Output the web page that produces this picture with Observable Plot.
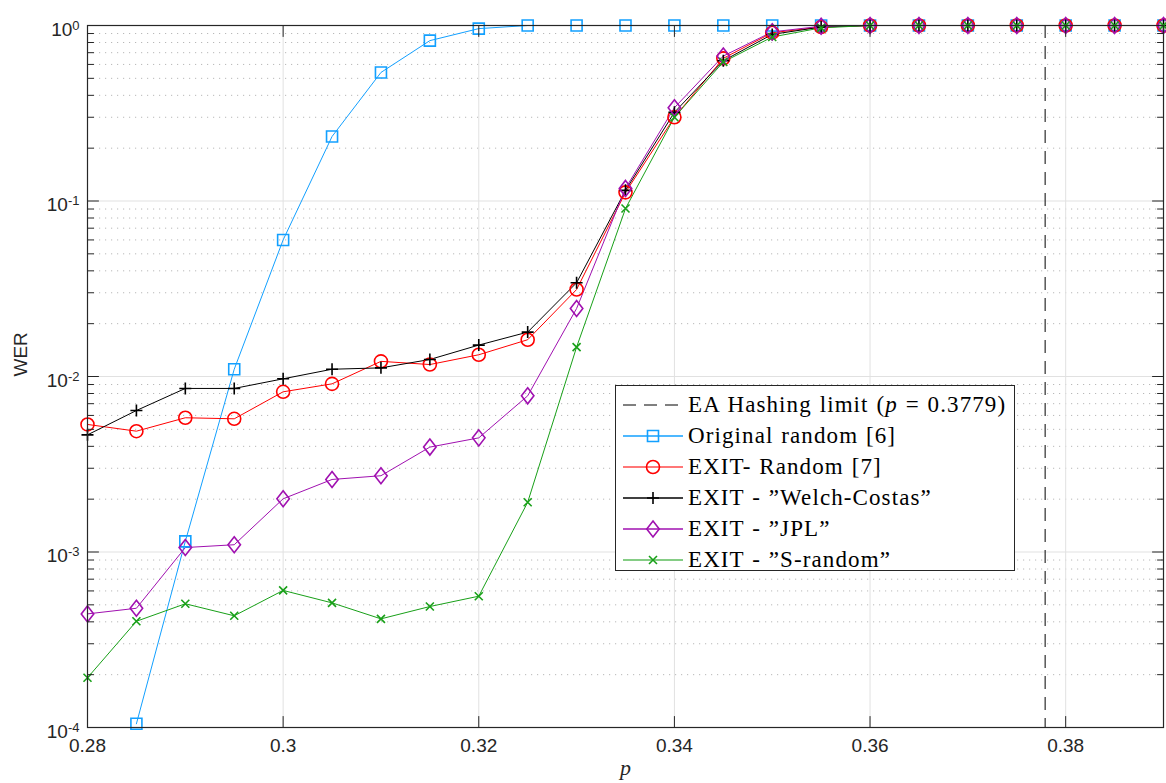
<!DOCTYPE html>
<html><head><meta charset="utf-8">
<script src="https://cdn.jsdelivr.net/npm/d3@7"></script>
<script src="https://cdn.jsdelivr.net/npm/@observablehq/plot@0.6"></script>
<style>
body{margin:0;background:#fff;}
#wrap{position:relative;width:1166px;height:783px;overflow:hidden;}
#legend{position:absolute;left:615px;top:385px;width:400px;height:186px;border:1px solid #262626;background:#fff;box-sizing:border-box;font-family:"Liberation Serif","Times New Roman",serif;font-size:23px;letter-spacing:1.1px;word-spacing:1px;color:#000;padding-top:3px;}
#legend .row{display:flex;align-items:center;height:31px;white-space:nowrap;}
#legend svg{margin-left:6px;margin-right:4px;flex:none;}
</style>
</head><body><div id="wrap"></div>
<script>
const p = [0.28,0.285,0.29,0.295,0.3,0.305,0.31,0.315,0.32,0.325,0.33,0.335,0.34,0.345,0.35,0.355,0.36,0.365,0.37,0.375,0.38,0.385,0.39];
const werOriginal = [null,1.05e-4,1.15e-3,1.1e-2,0.06,0.233,0.54,0.82,0.96,1,1,1,1,1,1,1,1,1,1,1,1,1,1];
const werExitRandom = [5.33e-3,4.88e-3,5.82e-3,5.74e-3,8.18e-3,9.08e-3,1.22e-2,1.17e-2,1.33e-2,1.62e-2,0.0313,0.112,0.30,0.65,0.91,0.98,1,1,1,1,1,1,1];
const werWelch = [4.65e-3,6.4e-3,8.55e-3,8.55e-3,9.7e-3,1.1e-2,1.12e-2,1.25e-2,1.51e-2,1.79e-2,0.0342,0.115,0.32,0.63,0.89,0.98,1,1,1,1,1,1,1];
const werJPL = [4.44e-4,4.78e-4,1.06e-3,1.1e-3,2.01e-3,2.59e-3,2.72e-3,3.96e-3,4.47e-3,7.76e-3,0.0244,0.118,0.34,0.67,0.92,0.99,1,1,1,1,1,1,1];
const werSRandom = [1.92e-4,4.03e-4,5.07e-4,4.33e-4,6.04e-4,5.13e-4,4.16e-4,4.89e-4,5.6e-4,1.92e-3,0.0147,0.0906,0.30,0.62,0.86,0.97,1,1,1,1,1,1,1];
const hashLimit = 0.3779;
const xTicks = [0.28,0.30,0.32,0.34,0.36,0.38];
const xTickLabels = ["0.28","0.3","0.32","0.34","0.36","0.38"];
const yMajor = [1e-4,1e-3,1e-2,1e-1,1];
const yExponents = ["-4","-3","-2","-1","0"];
const yMinor = [];
for (const d of [1e-4,1e-3,1e-2,1e-1]) for (let k = 2; k <= 9; k++) yMinor.push(d*k);

const seriesNames = ["Original random [6]","EXIT- Random [7]","EXIT - \u201DWelch-Costas\u201D","EXIT - \u201DJPL\u201D","EXIT - \u201DS-random\u201D"];
const seriesValues = [werOriginal, werExitRandom, werWelch, werJPL, werSRandom];
const seriesColors = ["#12a0ff","#ff0000","#000000","#a010b0","#18a018"];
const legendLineColors = ["#12a0ff","#ff4a4a","#000000","#a010b0","#5cbc5c"];

// custom marker shapes (MATLAB-like)
const sqr = {draw(c, s){const h = Math.sqrt(s)/2; c.rect(-h,-h,2*h,2*h);}};
const circ = {draw(c, s){const r = Math.sqrt(s/Math.PI); c.moveTo(r,0); c.arc(0,0,r,0,2*Math.PI);}};
const plus = {draw(c, s){const h = Math.sqrt(s)/2; c.moveTo(-h,0); c.lineTo(h,0); c.moveTo(0,-h); c.lineTo(0,h);}};
const diam = {draw(c, s){const h = Math.sqrt(s)/2, w = h*0.78; c.moveTo(0,-h); c.lineTo(w,0); c.lineTo(0,h); c.lineTo(-w,0); c.closePath();}};
const times = {draw(c, s){const h = Math.sqrt(s)/2; c.moveTo(-h,-h); c.lineTo(h,h); c.moveTo(-h,h); c.lineTo(h,-h);}};
const seriesSymbols = [sqr, circ, plus, diam, times];
const seriesSizes = [11, 13, 12, 16, 8]; // nominal pixel extents

const rows = [];
seriesNames.forEach((name, si) => {
  seriesValues[si].forEach((v, i) => { if (v != null) rows.push({series: name, si, p: p[i], wer: v}); });
});

const tickShape = {draw(c, l){c.moveTo(0,0); c.lineTo(0,-l);}};
const axisColor = "#262626";

const marks = [
  Plot.ruleY(yMinor, {y: d => d, stroke: "#b8b8b8", strokeDasharray: "1.2,4.8", strokeWidth: 1}),
  Plot.ruleY(yMajor, {y: d => d, stroke: "#e1e1e1", strokeWidth: 1}),
  Plot.ruleX(xTicks, {x: d => d, stroke: "#e1e1e1", strokeWidth: 1}),
  Plot.ruleX([hashLimit], {x: d => d, stroke: "#000", strokeDasharray: "13,8", strokeWidth: 1}),
];
seriesNames.forEach((name, si) => {
  const data = rows.filter(r => r.si === si);
  marks.push(Plot.line(data, {x: "p", y: "wer", stroke: seriesColors[si], strokeWidth: 1}));
});
seriesNames.forEach((name, si) => {
  const data = rows.filter(r => r.si === si);
  const sz = seriesSizes[si];
  const r = seriesSymbols[si] === circ ? sz/2 : sz/Math.sqrt(Math.PI);
  marks.push(Plot.dot(data, {x: "p", y: "wer", stroke: seriesColors[si], fill: "none", symbol: seriesSymbols[si], r, strokeWidth: 1.6}));
});
// ticks (inward) on all four sides
marks.push(
  Plot.vector(xTicks, {x: d => d, frameAnchor: "bottom", length: 11, rotate: 0, anchor: "start", shape: tickShape, stroke: axisColor, strokeWidth: 1}),
  Plot.vector(xTicks, {x: d => d, frameAnchor: "top", length: 11, rotate: 180, anchor: "start", shape: tickShape, stroke: axisColor, strokeWidth: 1}),
  Plot.vector(yMajor, {y: d => d, frameAnchor: "left", length: 11, rotate: 90, anchor: "start", shape: tickShape, stroke: axisColor, strokeWidth: 1}),
  Plot.vector(yMinor, {y: d => d, frameAnchor: "left", length: 6, rotate: 90, anchor: "start", shape: tickShape, stroke: axisColor, strokeWidth: 1}),
  Plot.vector(yMajor, {y: d => d, frameAnchor: "right", length: 11, rotate: -90, anchor: "start", shape: tickShape, stroke: axisColor, strokeWidth: 1}),
  Plot.vector(yMinor, {y: d => d, frameAnchor: "right", length: 6, rotate: -90, anchor: "start", shape: tickShape, stroke: axisColor, strokeWidth: 1}),
  Plot.frame({stroke: axisColor, strokeWidth: 1.2}),
  Plot.text(xTicks, {x: d => d, frameAnchor: "bottom", text: (d, i) => xTickLabels[i], dy: 24, fill: axisColor, fontSize: 19}),
  Plot.text(yMajor, {y: d => d, frameAnchor: "left", text: (d, i) => "10^" + yExponents[i], textAnchor: "end", dx: -8, dy: 4, fill: axisColor, fontSize: 19, className: "ylab"}),
  Plot.text(["WER"], {frameAnchor: "left", text: d => d, dx: -67, rotate: -90, fill: axisColor, fontSize: 19}),
  Plot.text(["p"], {frameAnchor: "bottom", text: d => d, dy: 47, fontStyle: "italic", fontFamily: "Liberation Serif, serif", fontSize: 22, fill: axisColor})
);

const chart = Plot.plot({
  width: 1166, height: 783,
  marginLeft: 87, marginRight: 3, marginTop: 25, marginBottom: 56,
  x: {type: "linear", domain: [0.28, 0.39], axis: null},
  y: {type: "log", domain: [1e-4, 1], axis: null},
  style: {fontFamily: "'Liberation Sans', Arial, Helvetica, sans-serif", fontSize: "19px", background: "#fff", overflow: "visible"},
  marks
});

// convert "10^e" labels into superscripts
d3.select(chart).selectAll("g.ylab text").each(function(){
  const t = d3.select(this);
  const [base, exp] = t.text().split("^");
  t.text(null);
  t.append("tspan").text(base);
  t.append("tspan").attr("dy", "-0.45em").attr("font-size", "13px").text(exp);
});

const wrap = document.getElementById("wrap");
wrap.appendChild(chart);

// legend
const legend = document.createElement("div");
legend.id = "legend";
function swatch(color, lineColor, symbol, size, dashed) {
  const ns = "http://www.w3.org/2000/svg";
  const svg = document.createElementNS(ns, "svg");
  svg.setAttribute("width", 62); svg.setAttribute("height", 24);
  const line = document.createElementNS(ns, "line");
  line.setAttribute("x1", 1); line.setAttribute("x2", 61); line.setAttribute("y1", 12); line.setAttribute("y2", 12);
  line.setAttribute("stroke", lineColor); line.setAttribute("stroke-width", dashed ? 1 : 1.5);
  if (dashed) line.setAttribute("stroke-dasharray", "13,8");
  svg.appendChild(line);
  if (symbol) {
    const path = document.createElementNS(ns, "path");
    const area = symbol === circ ? Math.PI*(size/2)*(size/2) : size*size;
    path.setAttribute("d", d3.symbol(symbol, area)());
    path.setAttribute("transform", "translate(31,12)");
    path.setAttribute("fill", "none"); path.setAttribute("stroke", color); path.setAttribute("stroke-width", 1.6);
    svg.appendChild(path);
  }
  return svg;
}
const r0 = document.createElement("div"); r0.className = "row";
r0.appendChild(swatch("#000", "#000", null, 0, true));
const t0 = document.createElement("span"); t0.innerHTML = "EA Hashing limit (<i>p</i> = 0.3779)"; r0.appendChild(t0);
legend.appendChild(r0);
seriesNames.forEach((name, si) => {
  const r = document.createElement("div"); r.className = "row";
  r.appendChild(swatch(seriesColors[si], legendLineColors[si], seriesSymbols[si], seriesSizes[si], false));
  const t = document.createElement("span"); t.textContent = name; r.appendChild(t);
  legend.appendChild(r);
});
wrap.appendChild(legend);
</script>
</body></html>
